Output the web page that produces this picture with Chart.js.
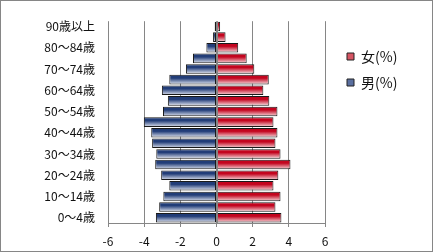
<!DOCTYPE html>
<html lang="ja">
<head>
<meta charset="UTF-8">
<title>人口ピラミッド</title>
<script src="https://cdn.jsdelivr.net/npm/chart.js"></script>
<style>
    body { margin: 0; background: #fff; }
    .box { width: 431px; height: 250px; border: 1px solid #868686; }
</style>
</head>
<body>
<div class="box"><canvas id="pyramid" width="431" height="250"></canvas></div>
<script>
    // データ（上から下へ）
    const ages = ['90歳以上', '85～89歳', '80～84歳', '75～79歳', '70～74歳', '65～69歳', '60～64歳',
        '55～59歳', '50～54歳', '45～49歳', '40～44歳', '35～39歳', '30～34歳', '25～29歳',
        '20～24歳', '15～19歳', '10～14歳', '5～9歳', '0～4歳'];
    const male = [-0.1, -0.19, -0.56, -1.3, -1.69, -2.61, -3.02, -2.69, -2.96, -4.02,
        -3.61, -3.56, -3.33, -3.39, -3.06, -2.61, -2.94, -3.17, -3.35];
    const female = [0.2, 0.5, 1.2, 1.67, 2.09, 2.89, 2.59, 2.92, 3.37, 3.15,
        3.37, 3.26, 3.54, 4.09, 3.42, 3.15, 3.54, 3.26, 3.59];
    const xTicks = [-6, -4, -2, 0, 2, 4, 6];

    Chart.defaults.font.family = '"Noto Sans CJK JP", sans-serif';
    Chart.defaults.color = '#111';

    const grayLine = '#868686';
    const barPct = 0.9;

    // 棒ごとの縦グラデーション
    function barFill(top, bottom) {
        return (c) => {
            const chart = c.chart;
            if (c.type !== 'data' || !chart.chartArea) return bottom;
            const y = chart.scales.y.getPixelForValue(c.dataIndex);
            const half = (chart.chartArea.bottom - chart.chartArea.top) / ages.length * barPct / 2;
            const g = chart.ctx.createLinearGradient(0, y - half, 0, y + half);
            g.addColorStop(0, top);
            g.addColorStop(0.35, top);
            g.addColorStop(1, bottom);
            return g;
        };
    }
    const legendFill = ['#5a6f9f', '#d65563'];

    const layoutFix = {
        id: 'layoutFix',
        beforeLayout(chart) {
            const lg = chart.legend;
            if (lg && !lg._fixed) {
                const fit = lg.fit;
                lg.fit = function () { fit.call(this); this.width = 107; };
                lg._fixed = true;
            }
        },
        afterLayout(chart) {
            chart.legend.left = 334;
            chart.legend.top = 36.5;
        },
        afterDatasetsDraw(chart) {
            const ctx = chart.ctx;
            const x = Math.round(chart.scales.x.getPixelForValue(0)) + 0.5;
            ctx.save();
            ctx.strokeStyle = grayLine;
            ctx.lineWidth = 1;
            ctx.beginPath();
            ctx.moveTo(x, chart.chartArea.top);
            ctx.lineTo(x, chart.chartArea.bottom);
            ctx.stroke();
            ctx.restore();
        }
    };

    new Chart(document.getElementById('pyramid'), {
        type: 'bar',
        data: {
            labels: ages,
            datasets: [
                {
                    label: '男(%)',
                    data: male,
                    backgroundColor: barFill('#223d78', '#e2e6f1'),
                    borderColor: '#1a1a1a',
                    borderWidth: 1,
                    borderSkipped: false,
                    barPercentage: barPct,
                    categoryPercentage: 1
                },
                {
                    label: '女(%)',
                    data: female,
                    backgroundColor: barFill('#c3051f', '#f7dde0'),
                    borderColor: '#1a1a1a',
                    borderWidth: 1,
                    borderSkipped: false,
                    barPercentage: barPct,
                    categoryPercentage: 1
                }
            ]
        },
        options: {
            indexAxis: 'y',
            responsive: false,
            animation: false,
            layout: { padding: { top: 13, left: 0, right: 0, bottom: 0 } },
            plugins: {
                tooltip: { enabled: false },
                legend: {
                    position: 'right',
                    align: 'start',
                    reverse: true,
                    labels: {
                        boxWidth: 7,
                        boxHeight: 7,
                        padding: 12,
                        color: '#111',
                        font: { size: 14 },
                        generateLabels: (chart) => Chart.defaults.plugins.legend.labels.generateLabels(chart)
                            .map(l => Object.assign(l, { fillStyle: legendFill[l.datasetIndex], strokeStyle: '#222', lineWidth: 1 }))
                    }
                }
            },
            scales: {
                x: {
                    stacked: true,
                    min: -6,
                    max: 6,
                    afterBuildTicks: (s) => { s.ticks = xTicks.map(v => ({ value: v })); },
                    afterFit: (s) => { s.height = 28; },
                    grid: { color: grayLine, tickLength: 4, tickColor: grayLine },
                    border: { color: grayLine },
                    ticks: { padding: 7, font: { size: 12 }, color: '#111' }
                },
                y: {
                    stacked: true,
                    afterFit: (s) => { s.width = 107; },
                    grid: { display: false, drawTicks: false },
                    border: { display: false },
                    ticks: {
                        autoSkip: false,
                        padding: 13,
                        font: { size: 12 },
                        color: '#111',
                        callback: (v, i) => i % 2 === 0 ? ages[i] : ''
                    }
                }
            }
        },
        plugins: [layoutFix]
    });
</script>
</body>
</html>
